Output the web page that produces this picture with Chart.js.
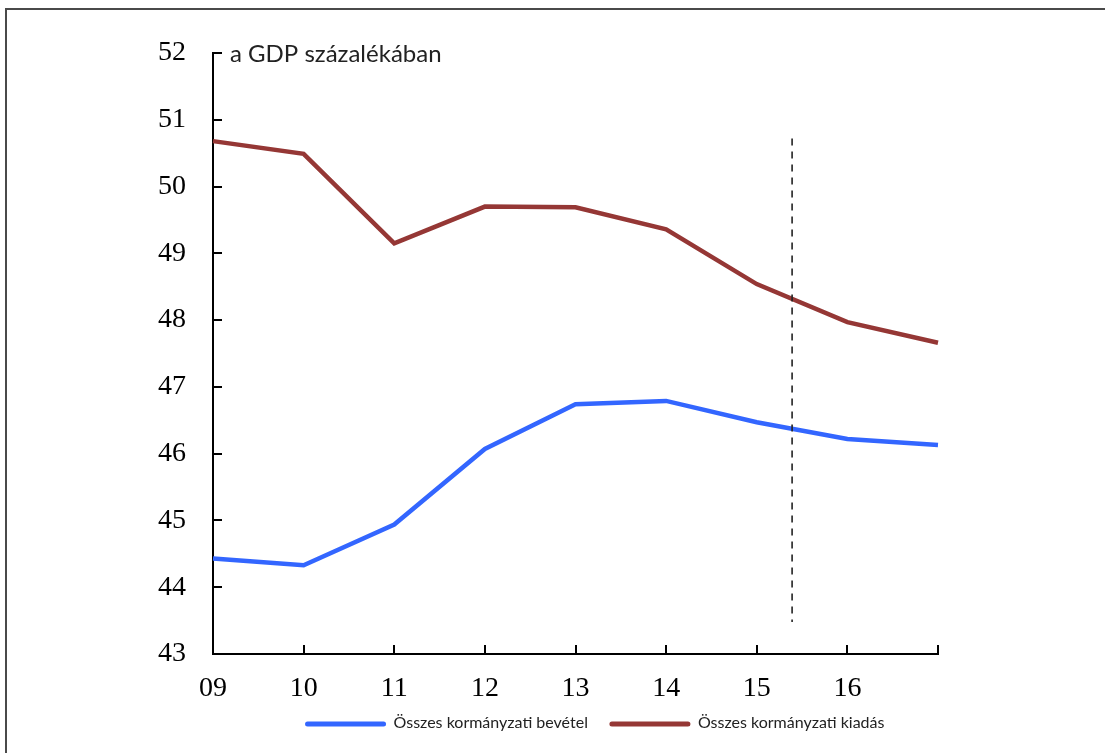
<!DOCTYPE html>
<html>
<head>
<meta charset="utf-8">
<script src="https://cdn.jsdelivr.net/npm/chart.js@4"></script>
<style>
    html, body { margin: 0; padding: 0; background: #fff; overflow: hidden; }
    #frame {
        position: absolute; left: 5px; top: 8px; width: 1300px; height: 900px;
        border-top: 2px solid #4a4a4a; border-left: 2px solid #4a4a4a;
    }
    #emiWrap { position: absolute; left: 0; top: 0; width: 1105px; height: 753px; }
</style>
</head>
<body>
<div id="frame"></div>
<div id="emiWrap"><canvas id="govChart" width="1105" height="753"></canvas></div>
<script>
const years = ['09', '10', '11', '12', '13', '14', '15', '16', ''];
const revenue = [44.43, 44.33, 44.94, 46.07, 46.74, 46.79, 46.47, 46.22, 46.13];
const spending = [50.68, 50.49, 49.15, 49.70, 49.69, 49.36, 48.54, 47.97, 47.66];
const yTicks = [43, 44, 45, 46, 47, 48, 49, 50, 51, 52];
const seriesLabels = ['Összes kormányzati bevétel', 'Összes kormányzati kiadás'];
const unitLabel = 'a GDP százalékában';
// dashed marker between 15 and 16 (category index, value range)
const markerIndex = 6.39;
const markerFrom = 43.48;
const markerTo = 50.72;

const seriesColors = ['#3366ff', '#953735'];

// inward ticks, the dashed marker, the unit label and the legend
const extrasPlugin = {
    id: 'extras',
    afterDraw(chart) {
        const ctx = chart.ctx;
        const x = chart.scales.x;
        const y = chart.scales.y;
        const area = chart.chartArea;
        ctx.save();
        ctx.strokeStyle = '#000';
        ctx.lineWidth = 2;
        ctx.beginPath();
        yTicks.forEach(v => {
            const py = Math.round(y.getPixelForValue(v));
            ctx.moveTo(area.left, py);
            ctx.lineTo(area.left + 9, py);
        });
        years.forEach((_, i) => {
            const px = Math.round(x.getPixelForValue(i));
            ctx.moveTo(px, area.bottom);
            ctx.lineTo(px, area.bottom - 9);
        });
        ctx.stroke();

        // dashed marker
        const lo = Math.floor(markerIndex);
        const mx = x.getPixelForValue(lo) + (x.getPixelForValue(lo + 1) - x.getPixelForValue(lo)) * (markerIndex - lo);
        ctx.strokeStyle = '#222';
        ctx.lineWidth = 1.6;
        ctx.setLineDash([7, 6]);
        ctx.beginPath();
        ctx.moveTo(mx, y.getPixelForValue(markerTo));
        ctx.lineTo(mx, y.getPixelForValue(markerFrom));
        ctx.stroke();
        ctx.setLineDash([]);

        // unit label
        ctx.fillStyle = '#222';
        ctx.font = '24px Lato';
        ctx.textBaseline = 'middle';
        ctx.textAlign = 'left';
        ctx.fillText(unitLabel, area.left + 17, y.getPixelForValue(52) + 1);

        // legend
        ctx.font = '16px Lato';
        const lineLen = 80, gap = 8, spacing = 22;
        const widths = seriesLabels.map(t => ctx.measureText(t).width);
        const total = widths.reduce((a, w) => a + lineLen + gap + w, 0) + spacing;
        let lx = 595 - total / 2;
        const ly = 724;
        seriesLabels.forEach((t, i) => {
            ctx.strokeStyle = seriesColors[i];
            ctx.lineWidth = 5;
            ctx.lineCap = 'round';
            ctx.beginPath();
            ctx.moveTo(lx + 2, ly);
            ctx.lineTo(lx + lineLen - 2, ly);
            ctx.stroke();
            ctx.fillStyle = '#222';
            ctx.fillText(t, lx + lineLen + gap, ly - 1);
            lx += lineLen + gap + widths[i] + spacing;
        });
        ctx.restore();
    }
};

const ctx = document.getElementById('govChart').getContext('2d');
new Chart(ctx, {
    type: 'line',
    data: {
        labels: years,
        datasets: [
            {
                label: seriesLabels[0],
                data: revenue,
                borderColor: seriesColors[0],
                borderWidth: 4.5,
                pointRadius: 0,
                tension: 0
            },
            {
                label: seriesLabels[1],
                data: spending,
                borderColor: seriesColors[1],
                borderWidth: 4.5,
                pointRadius: 0,
                tension: 0
            }
        ]
    },
    options: {
        responsive: false,
        animation: false,
        layout: { padding: { left: 0, right: 167, top: 53, bottom: 0 } },
        plugins: {
            legend: { display: false },
            tooltip: { enabled: false }
        },
        scales: {
            x: {
                offset: false,
                grid: { display: false, drawTicks: false },
                border: { display: true, color: '#000', width: 2 },
                ticks: {
                    color: '#000',
                    font: { family: 'Liberation Serif', size: 28 },
                    padding: 18,
                    maxRotation: 0,
                    autoSkip: false
                },
                afterFit(scale) { scale.height = 99; }
            },
            y: {
                min: 43,
                max: 52,
                grid: { display: false, drawTicks: false },
                border: { display: true, color: '#000', width: 2 },
                ticks: {
                    stepSize: 1,
                    color: '#000',
                    font: { family: 'Liberation Serif', size: 28 },
                    padding: 27
                },
                afterFit(scale) { scale.width = 213; }
            }
        }
    },
    plugins: [extrasPlugin]
});
</script>
</body>
</html>
